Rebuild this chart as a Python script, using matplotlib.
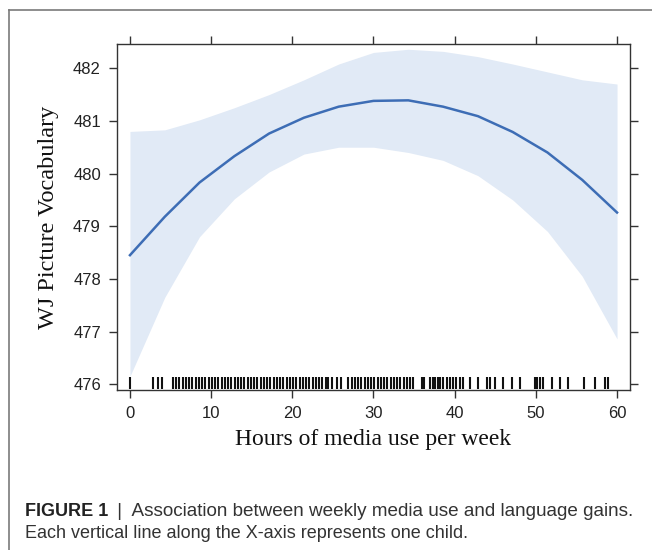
import numpy as np
import matplotlib
matplotlib.use("Agg")
import matplotlib.pyplot as plt
from matplotlib.lines import Line2D

# Curva estimada (efecto) y banda de confianza
horas = [0, 4.29, 8.57, 12.86, 17.14, 21.43, 25.71, 30, 34.29, 38.57,
         42.86, 47.14, 51.43, 55.71, 60]
ajuste = [478.45, 479.18, 479.83, 480.33, 480.76, 481.06, 481.27, 481.38,
          481.39, 481.27, 481.09, 480.79, 480.40, 479.88, 479.26]
banda_sup = [480.80, 480.83, 481.02, 481.25, 481.50, 481.78, 482.08, 482.30,
             482.36, 482.32, 482.22, 482.08, 481.93, 481.78, 481.70]
banda_inf = [476.15, 477.65, 478.80, 479.52, 480.03, 480.37, 480.50, 480.50,
             480.40, 480.25, 479.96, 479.50, 478.90, 478.05, 476.86]

# Un niño por línea (rug)
rug = [0.0, 2.9, 3.4, 3.9,
       5.3, 5.7, 6.1, 6.5, 6.9, 7.3, 7.7, 8.1, 8.5, 8.9, 9.3, 9.7, 10.1,
       10.5, 10.9, 11.3, 11.7, 12.1, 12.5, 12.9, 13.3, 13.7, 14.1, 14.5,
       14.9, 15.3, 15.7, 16.1, 16.5, 16.9, 17.3, 17.7, 18.1, 18.5, 18.9,
       19.3, 19.7, 20.1, 20.5, 20.9, 21.3, 21.7, 22.1, 22.5, 22.9, 23.3,
       23.7, 24.1, 24.4, 24.9, 25.5, 26.0,
       26.9, 27.3, 27.7, 28.1, 28.5, 28.9, 29.3, 29.7, 30.1, 30.5, 30.9,
       31.3, 31.7, 32.1, 32.5, 32.9, 33.3, 33.7, 34.1, 34.5, 34.9,
       36.0, 36.2, 37.0, 37.3, 37.6, 37.9, 38.2, 38.6, 39.0, 39.4, 39.8,
       40.2, 40.6, 41.0, 41.9, 42.9, 44.0, 44.4, 45.0, 46.0, 47.0, 48.1,
       49.9, 50.2, 50.5, 50.9, 52.0, 53.0, 54.0, 55.9, 57.3, 58.5, 58.9]

xticks = [0, 10, 20, 30, 40, 50, 60]
yticks = [476, 477, 478, 479, 480, 481, 482]

C = {"banda": "#e1eaf6", "linea": "#3d6db5", "eje": "#333333",
     "marco": "#7a7a7a", "texto": "#333333"}

fig = plt.figure(figsize=(6.52, 5.5), dpi=100)
ax = fig.add_axes([0.1794, 0.2909, 0.7869, 0.6291])

ax.fill_between(horas, banda_inf, banda_sup, color=C["banda"], lw=0)
ax.plot(horas, ajuste, color=C["linea"], lw=1.8)
ax.vlines(rug, 0.003, 0.037, transform=ax.get_xaxis_transform(),
          color="#111111", lw=1.5)

ax.set_xlim(-1.6, 61.6)
ax.set_ylim(475.89, 482.46)
ax.set_xticks(xticks)
ax.set_yticks(yticks)
for s in ax.spines.values():
    s.set_color(C["eje"])
    s.set_linewidth(1.0)
ax.tick_params(direction="out", length=5.5, width=1.0, color=C["eje"],
               top=True, right=True, labeltop=False, labelright=False,
               labelsize=12, labelcolor="#222222", pad=6)
for lab in ax.get_xticklabels() + ax.get_yticklabels():
    lab.set_family("Liberation Sans")

ax.set_xlabel("Hours of media use per week", family="Liberation Serif",
              fontsize=17, color="#111111", labelpad=6)
ax.set_ylabel("WJ Picture Vocabulary", family="Liberation Serif",
              fontsize=17.5, color="#111111", labelpad=10)

# Marco del panel (abierto a la derecha y abajo)
fig.add_artist(Line2D([9 / 652, 9 / 652], [0, 1 - 10 / 550],
                      color=C["marco"], lw=1.2))
fig.add_artist(Line2D([9 / 652, 1], [1 - 10 / 550, 1 - 10 / 550],
                      color=C["marco"], lw=1.2))

# Pie de figura
t1 = fig.text(25 / 652, 1 - 511 / 550, "FIGURE 1", family="Liberation Sans",
              fontsize=13, fontweight="bold", color="#222222", va="center")
fig.canvas.draw()
bb = t1.get_window_extent()
fig.text(bb.x1 / 652 + 0.006, 1 - 511 / 550,
         " |  Association between weekly media use and language gains.",
         family="Liberation Sans", fontsize=13.6, color=C["texto"],
         va="center")
fig.text(25 / 652, 1 - 533 / 550,
         "Each vertical line along the X-axis represents one child.",
         family="Liberation Sans", fontsize=13, color=C["texto"],
         va="center")

fig.savefig("out.png", dpi=100)
